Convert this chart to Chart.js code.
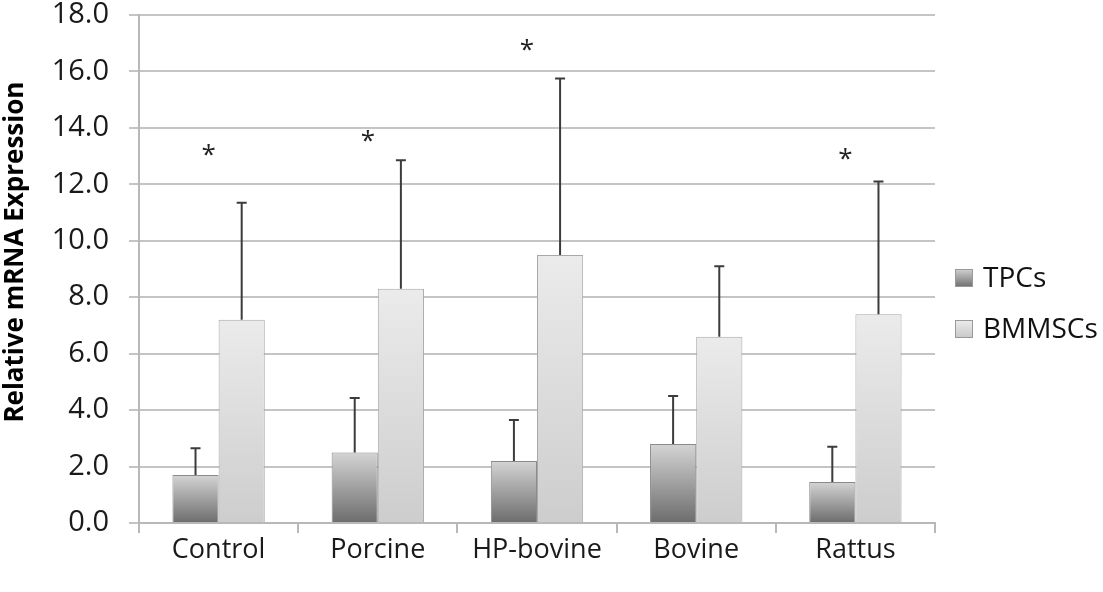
<!DOCTYPE html>
<html>
<head>
<meta charset="utf-8">
<script src="https://cdn.jsdelivr.net/npm/chart.js@4/dist/chart.umd.min.js"></script>
<style>
  html, body { margin: 0; padding: 0; background: #fff; }
  #wrap { width: 1103px; height: 592px; }
</style>
</head>
<body>
<div id="wrap"><canvas id="chart"></canvas></div>
<script>
// Data
const categories = ["Control", "Porcine", "HP-bovine", "Bovine", "Rattus"];
const seriesNames = ["TPCs", "BMMSCs"];
const tpcs = [1.7, 2.5, 2.2, 2.8, 1.45];
const bmmscs = [7.2, 8.3, 9.5, 6.6, 7.4];
// upper ends of the error bars
const tpcsErrTop = [2.65, 4.43, 3.65, 4.5, 2.7];
const bmmscsErrTop = [11.35, 12.85, 15.75, 9.1, 12.1];
// significance stars (null = none)
const starValues = [13.2, 13.7, 16.9, null, 13.05];

const FONT = "'Open Sans', sans-serif";

// vertical gradient over the height of each bar
function barGradient(top, bottom) {
  return function (ctx) {
    const chart = ctx.chart;
    if (!chart.chartArea || ctx.raw == null) return bottom;
    const y = chart.scales.y;
    const y0 = y.getPixelForValue(ctx.raw);
    const y1 = y.getPixelForValue(0);
    const g = chart.ctx.createLinearGradient(0, y0, 0, y1);
    g.addColorStop(0, top);
    g.addColorStop(1, bottom);
    return g;
  };
}

const errorBars = {
  id: "errorBars",
  afterDatasetsDraw(chart) {
    const ctx = chart.ctx;
    const yScale = chart.scales.y;
    const tops = [tpcsErrTop, bmmscsErrTop];
    ctx.save();
    ctx.strokeStyle = "#3c3c3c";
    ctx.lineWidth = 2;
    chart.data.datasets.forEach((ds, di) => {
      const meta = chart.getDatasetMeta(di);
      meta.data.forEach((bar, i) => {
        const yTop = yScale.getPixelForValue(tops[di][i]);
        ctx.beginPath();
        ctx.moveTo(bar.x, bar.y);
        ctx.lineTo(bar.x, yTop);
        ctx.moveTo(bar.x - 5, yTop);
        ctx.lineTo(bar.x + 5, yTop);
        ctx.stroke();
      });
    });

    // stars
    const xScale = chart.scales.x;
    ctx.fillStyle = "#222";
    ctx.font = "26px " + FONT;
    ctx.textAlign = "center";
    ctx.textBaseline = "middle";
    starValues.forEach((v, i) => {
      if (v == null) return;
      ctx.fillText("*", xScale.getPixelForValue(i) - 10, yScale.getPixelForValue(v) + 5);
    });
    ctx.restore();
  }
};

// legend to the right of the plot
const sideLegend = {
  id: "sideLegend",
  afterDraw(chart) {
    const ctx = chart.ctx;
    const area = chart.chartArea;
    const x = area.right + 20;
    const fills = [["#d2d2d2", "#6e6e6e"], ["#ececec", "#c8c8c8"]];
    ctx.save();
    ctx.font = "28px " + FONT;
    ctx.textBaseline = "middle";
    ctx.textAlign = "left";
    seriesNames.forEach((name, i) => {
      const cy = chart.height / 2 - 18 + i * 51;
      const g = ctx.createLinearGradient(0, cy - 9, 0, cy + 9);
      g.addColorStop(0, fills[i][0]);
      g.addColorStop(1, fills[i][1]);
      ctx.fillStyle = g;
      ctx.fillRect(x, cy - 9, 18, 18);
      ctx.strokeStyle = "#999";
      ctx.lineWidth = 1;
      ctx.strokeRect(x + 0.5, cy - 8.5, 17, 17);
      ctx.fillStyle = "#111";
      ctx.fillText(name, x + 28, cy + 1);
    });
    ctx.restore();
  }
};

new Chart(document.getElementById("chart"), {
  type: "bar",
  data: {
    labels: categories,
    datasets: [
      {
        label: seriesNames[0],
        data: tpcs,
        backgroundColor: barGradient("#d4d4d4", "#6c6c6c"),
        borderColor: "#8a8a8a",
        borderWidth: 1
      },
      {
        label: seriesNames[1],
        data: bmmscs,
        backgroundColor: barGradient("#ebebeb", "#cdcdcd"),
        borderColor: "#a8a8a8",
        borderWidth: 1
      }
    ]
  },
  options: {
    responsive: true,
    maintainAspectRatio: false,
    animation: false,
    layout: { padding: { top: 0, right: 168, left: 0, bottom: 0 } },
    plugins: {
      legend: { display: false },
      tooltip: { enabled: false }
    },
    datasets: {
      bar: { categoryPercentage: 0.58, barPercentage: 1.0 }
    },
    scales: {
      x: {
        afterFit(scale) { scale.height = 69; },
        grid: {
          offset: true,
          drawOnChartArea: false,
          drawTicks: true,
          tickLength: 10,
          color: "#b8b8b8",
          lineWidth: 2
        },
        border: { color: "#b8b8b8", width: 2 },
        ticks: {
          color: "#1a1a1a",
          padding: 1,
          font: { family: FONT, size: 27 }
        }
      },
      y: {
        min: 0,
        max: 18,
        afterFit(scale) {
          scale.width = 139;
          scale.paddingTop = 15;
        },
        grid: {
          color: "#c4c4c4",
          lineWidth: 2,
          tickLength: 10
        },
        border: { color: "#b8b8b8", width: 2 },
        ticks: {
          stepSize: 2,
          color: "#1a1a1a",
          padding: 20,
          font: { family: FONT, size: 29, lineHeight: 1 },
          callback: (v) => v.toFixed(1)
        },
        title: {
          display: true,
          // leading spaces nudge the rotated title upward, as in the original
          text: "     Relative mRNA Expression",
          color: "#000",
          padding: { top: 0, bottom: 0 },
          font: { family: FONT, size: 26, weight: "bold" }
        }
      }
    }
  },
  plugins: [errorBars, sideLegend]
});
</script>
</body>
</html>
